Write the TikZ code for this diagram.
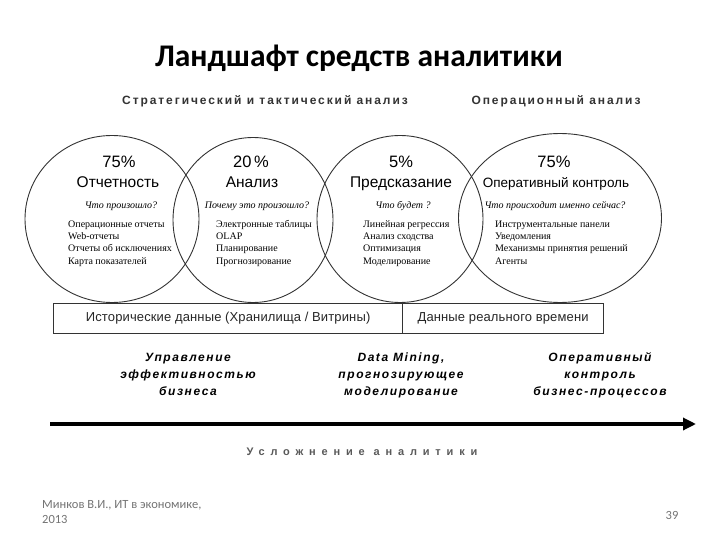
\documentclass[tikz,border=0pt]{standalone}
\usepackage{fontspec}
\setmainfont{Liberation Serif}
\setsansfont{Liberation Sans}
\newfontfamily\titlefont{Carlito}
\usetikzlibrary{arrows.meta,shapes.geometric}
\newcommand{\topstrut}[1]{\rule{0pt}{#1}}
\tikzset{
  circ/.style={draw=black!80, line width=0.9pt, ellipse, inner sep=0pt},
  pct/.style={font=\sffamily\fontsize{16.5}{18}\selectfont, inner sep=0pt, anchor=base},
  head/.style={font=\sffamily\fontsize{15.5}{17}\selectfont, inner sep=0pt, anchor=base},
  quest/.style={font=\rmfamily\itshape\fontsize{10}{11}\selectfont, inner sep=0pt, anchor=base},
  items/.style={font=\rmfamily\fontsize{10}{12.1}\selectfont, align=left, anchor=north west, inner sep=0pt},
  sect/.style={font=\sffamily\bfseries\fontsize{12}{14}\selectfont\addfontfeature{LetterSpace=16}, text=black!80, inner sep=0pt, anchor=base},
  barbox/.style={draw=black!80, line width=1.2pt, rectangle, inner sep=0pt, minimum height=30pt, anchor=north west,
     font=\sffamily\fontsize{13}{15}\selectfont\addfontfeature{LetterSpace=1}, text=black!85},
  lbl/.style={font=\sffamily\bfseries\itshape\fontsize{12}{17}\selectfont\addfontfeature{LetterSpace=13}, align=center, anchor=north, inner sep=0pt},
  foot/.style={font=\titlefont\fontsize{12.5}{15}\selectfont, text=black!55, inner sep=0pt}
}
\begin{document}
\begin{tikzpicture}[x=1pt,y=-1pt]
\useasboundingbox (0,0) rectangle (720,540);
% title
\node[font=\titlefont\bfseries\fontsize{31.5}{34}\selectfont, inner sep=0pt] (title) at (359,58) {Ландшафт средств аналитики};
% section headers
\node[sect] (s1) at (265,105) {Стратегический и тактический анализ};
\node[sect] (s2) at (556,105) {Операционный анализ};
% circles
\node[circ, minimum width=174pt, minimum height=167pt] (c1) at (112,219) {};
\node[circ, minimum width=160pt, minimum height=165pt] (c2) at (253,220) {};
\node[circ, minimum width=166pt, minimum height=167pt] (c3) at (400,219) {};
\node[circ, minimum width=203pt, minimum height=169pt] (c4) at (560,218) {};
% circle 1
\node[pct] (p1) at (119,168) {75\%};
\node[head] (n1) at (118,188) {Отчетность};
\node[quest] (q1) at (121,209) {Что произошло?};
\node[items] (i1) at (68,217.5) {\topstrut{10pt}Операционные отчеты\\Web-отчеты\\Отчеты об исключениях\\Карта показателей};
% circle 2
\node[pct] (p2) at (251,168) {20\,\%};
\node[head] (n2) at (252,188) {Анализ};
\node[quest] (q2) at (257,209) {Почему это произошло?};
\node[items] (i2) at (216,217.5) {\topstrut{10pt}Электронные таблицы\\OLAP\\Планирование\\Прогнозирование};
% circle 3
\node[pct] (p3) at (401,168) {5\%};
\node[head] (n3) at (401,188) {Предсказание};
\node[quest] (q3) at (403,209) {Что будет ?};
\node[items] (i3) at (363,217.5) {\topstrut{10pt}Линейная регрессия\\Анализ сходства\\Оптимизация\\Моделирование};
% circle 4
\node[pct] (p4) at (554,168) {75\%};
\node[head, font=\sffamily\fontsize{13.5}{15}\selectfont] (n4) at (556,188) {Оперативный контроль};
\node[quest] (q4) at (555,209) {Что происходит именно сейчас?};
\node[items] (i4) at (495,217.5) {\topstrut{10pt}Инструментальные панели\\Уведомления\\Механизмы принятия решений\\Агенты};
% data bar
\node[barbox, minimum width=349pt] (hist) at (53,303) {Исторические данные (Хранилища / Витрины)};
\node[barbox, minimum width=201pt] (rt) at (402,303) {Данные реального времени};
% bottom labels
\node[lbl] (l1) at (188,349) {\topstrut{12pt}Управление\\эффективностью\\бизнеса};
\node[lbl] (l2) at (401,349) {\topstrut{12pt}Data Mining,\\прогнозирующее\\моделирование};
\node[lbl] (l3) at (600,349) {\topstrut{12pt}Оперативный\\контроль\\бизнес-процессов};
% arrow
\coordinate (a0) at (50,424);
\coordinate (a1) at (696,424);
\draw[line width=3.2pt, -{Triangle[length=13pt,width=12pt]}] (a0) -- (a1);
\node[font=\sffamily\bfseries\fontsize{11}{13}\selectfont\addfontfeature{LetterSpace=53}, text=black!65, inner sep=0pt] (cx) at (362,452) {Усложнение аналитики};
% footer
\node[foot, anchor=north west, align=left] (f1) at (42,500) {Минков В.И., ИТ в экономике,\\2013};
\node[foot] (pg) at (672,515) {39};
\end{tikzpicture}
\end{document}
